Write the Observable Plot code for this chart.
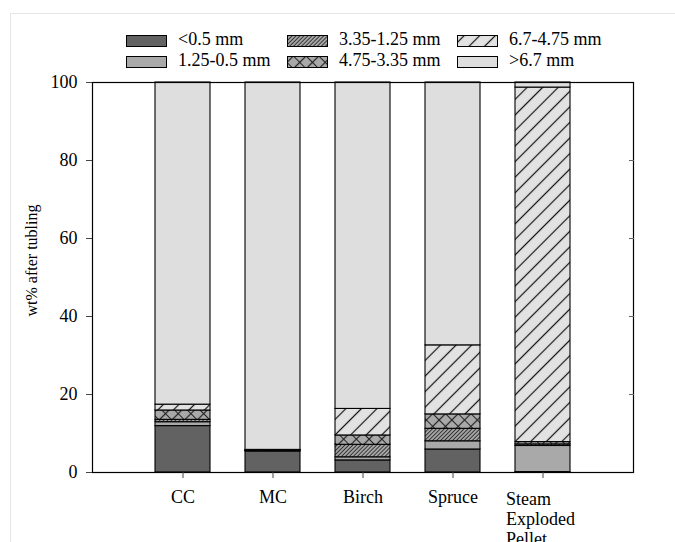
<!DOCTYPE html>
<html><head><meta charset="utf-8">
<script src="https://cdn.jsdelivr.net/npm/d3@7"></script>
<script src="https://cdn.jsdelivr.net/npm/@observablehq/plot@0.6"></script>
<style>
body{margin:0;background:#fff;font-family:"Liberation Serif","Times New Roman",serif;}
#wrap{position:relative;width:675px;height:542px;overflow:hidden;}
#border{position:absolute;left:10px;top:13px;width:700px;height:600px;border-left:1px solid #e6e6e6;border-top:1px solid #e6e6e6;}
#chart{position:absolute;left:0;top:0;}
#legend{position:absolute;left:126px;top:35px;display:grid;grid-auto-flow:column;grid-template-rows:12px 12px;grid-template-columns:161px 170px auto;row-gap:9px;font-size:18px;line-height:12px;color:#000;}
.item{display:flex;align-items:center;white-space:nowrap;}
.item svg{margin-right:11px;flex:none;}
.item span{position:relative;top:-2px;}
</style></head><body>
<svg width="0" height="0" style="position:absolute"><defs>
<pattern id="hDense" patternUnits="userSpaceOnUse" width="2.8" height="2.8" patternTransform="rotate(45)"><rect width="2.8" height="2.8" fill="#a9a9a9"/><line x1="1.4" y1="0" x2="1.4" y2="2.8" stroke="#333" stroke-width="1"/></pattern>
<pattern id="cross" patternUnits="userSpaceOnUse" width="9" height="9" patternTransform="rotate(45)"><rect width="9" height="9" fill="#a9a9a9"/><path d="M4.5,0V9M0,4.5H9" stroke="#222" stroke-width="1.2"/></pattern>
<pattern id="hSparse" patternUnits="userSpaceOnUse" width="11" height="11" patternTransform="rotate(45)"><rect width="11" height="11" fill="#e2e2e2"/><line x1="5.5" y1="0" x2="5.5" y2="11" stroke="#111" stroke-width="1.2"/></pattern>
</defs></svg>
<div id="wrap"><div id="border"></div><div id="chart"></div><div id="legend"></div></div>
<script>
const samples = ["CC", "MC", "Birch", "Spruce", "Steam Exploded Pellet"];
const sampleLabels = ["CC", "MC", "Birch", "Spruce", "Steam\nExploded\nPellet"];
const sizeClasses = ["<0.5 mm", "1.25-0.5 mm", "3.35-1.25 mm", "4.75-3.35 mm", "6.7-4.75 mm", ">6.7 mm"];
const lt05     = [11.9, 5.4, 3.1, 5.9, 0.1];
const s125_05  = [1.0, 0.1, 0.8, 2.1, 6.7];
const s335_125 = [0.6, 0.1, 3.2, 3.2, 0.4];
const s475_335 = [2.4, 0.1, 2.4, 3.7, 0.6];
const s67_475  = [1.5, 0.1, 6.8, 17.7, 90.9];
const gt67     = [82.6, 94.2, 83.7, 67.4, 1.3];
const yTicks = [0, 20, 40, 60, 80, 100];
const yLabel = "wt% after tubling";
const fills = ["#626262", "#a9a9a9", "url(#hDense)", "url(#cross)", "url(#hSparse)", "#dedede"];

const series = [lt05, s125_05, s335_125, s475_335, s67_475, gt67];
const rows = [];
samples.forEach((s, i) => series.forEach((arr, k) => rows.push({sample: s, cls: sizeClasses[k], value: arr[i]})));

const chart = Plot.plot({
  width: 675, height: 542,
  marginLeft: 92, marginRight: 42, marginTop: 82, marginBottom: 70,
  style: {fontFamily: "Liberation Serif, Times New Roman, serif", fontSize: "18px", background: "transparent"},
  x: {domain: samples, paddingInner: 0.39, paddingOuter: 0.7, label: null, axis: null},
  y: {domain: [0, 100], label: null, axis: null},
  color: {type: "ordinal", domain: sizeClasses, range: fills},
  marks: [
    Plot.barY(rows, {x: "sample", y: "value", fill: "cls", stroke: "black", strokeWidth: 1.1}),
    Plot.frame({stroke: "black", strokeWidth: 1.2}),
    Plot.axisY({ticks: yTicks, tickSize: 6, tickPadding: 9, fontSize: 18, label: null, stroke: "#444"}),
    Plot.axisY({anchor: "right", ticks: yTicks.slice(1, -1), tickSize: -5, tickFormat: () => "", label: null, stroke: "#666"}),
    Plot.axisX({tickSize: 6, tickFormat: () => "", label: null, stroke: "#444"}),
    Plot.text(samples.slice(0, 4), {x: d => d, text: (d, i) => sampleLabels[i], frameAnchor: "bottom", lineAnchor: "top", dy: 18, fontSize: 18}),
    Plot.text(samples.slice(4), {x: d => d, text: () => sampleLabels[4], frameAnchor: "bottom", lineAnchor: "top", textAnchor: "start", dx: -37, dy: 18, lineHeight: 1.11, fontSize: 18}),
    Plot.text([yLabel], {text: d => d, frameAnchor: "left", textAnchor: "middle", rotate: -90, dx: -61, dy: -17, fontSize: 16})
  ]
});
document.getElementById("chart").appendChild(chart);

const legend = document.getElementById("legend");
sizeClasses.forEach((c, k) => {
  const item = document.createElement("div");
  item.className = "item";
  item.innerHTML = `<svg width="41" height="12"><rect x="0.5" y="0.5" width="40" height="11" fill="${fills[k]}" stroke="black" stroke-width="1"/></svg><span></span>`;
  item.querySelector("span").textContent = c;
  legend.appendChild(item);
});
</script>
</body></html>
